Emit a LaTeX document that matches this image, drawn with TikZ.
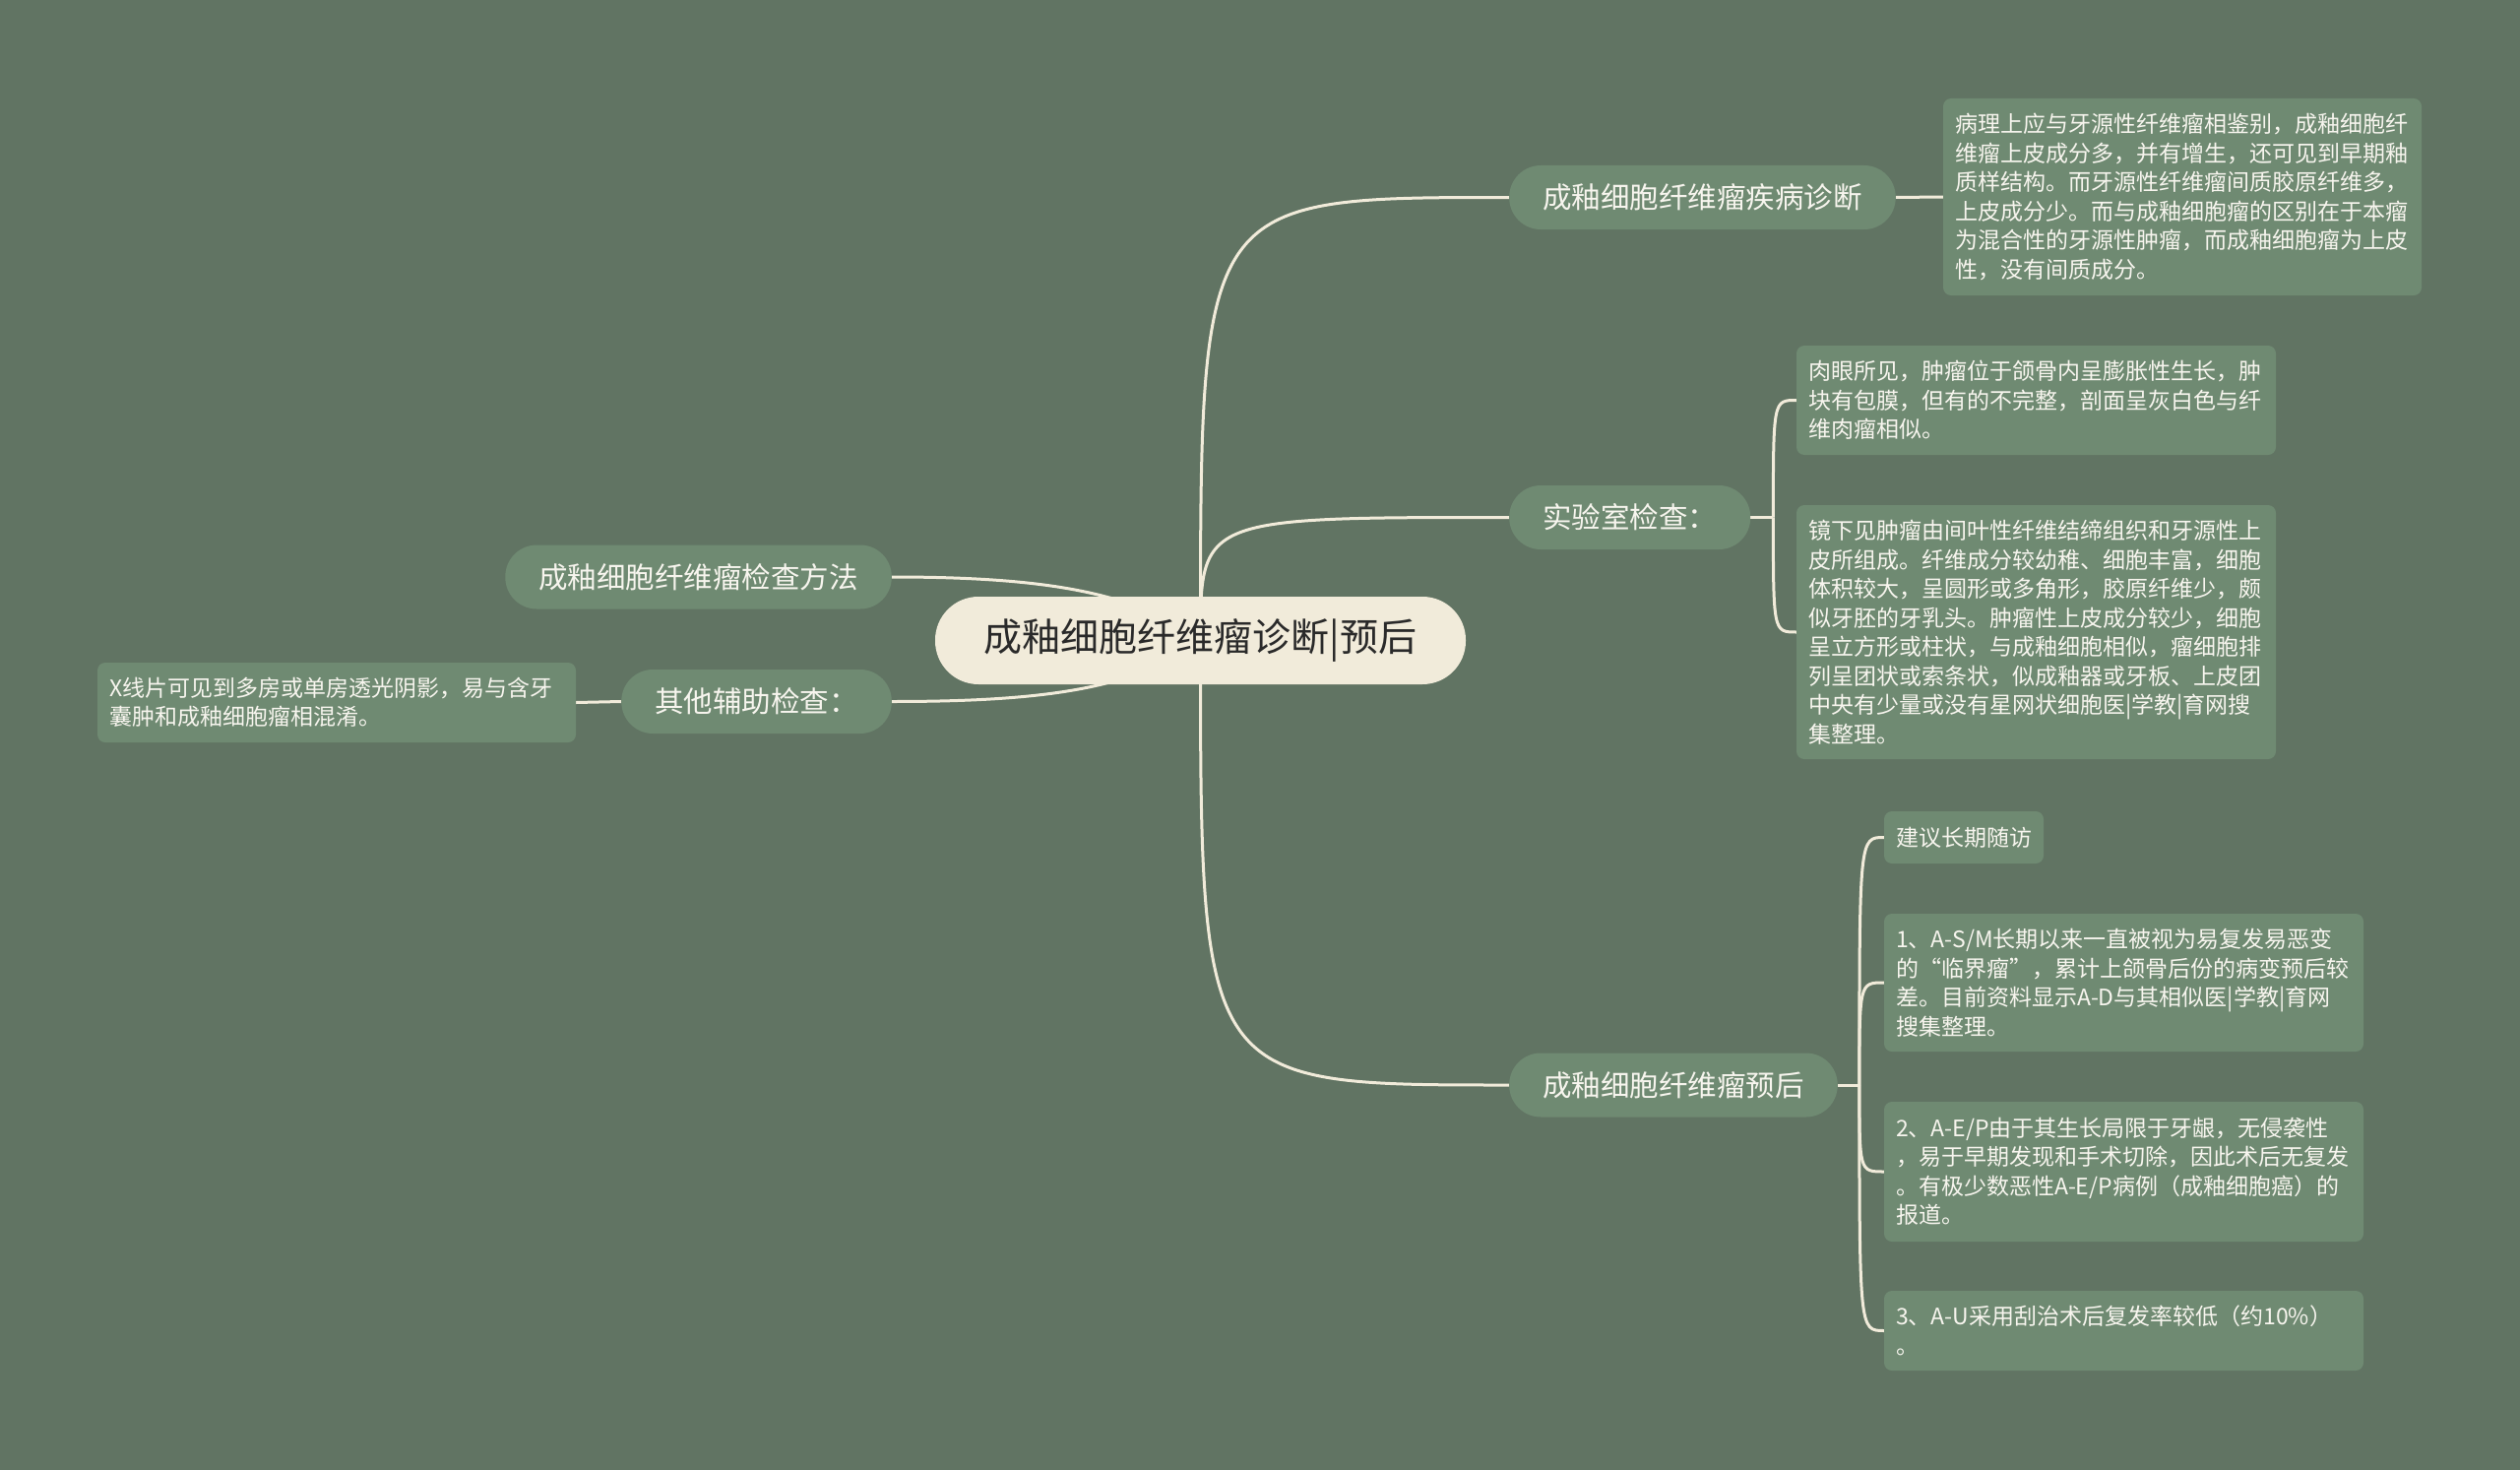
\documentclass[tikz,border=0pt]{standalone}
\usepackage{fontspec}
\newfontfamily\cjk{Noto Sans CJK SC}
\usetikzlibrary{calc}
\definecolor{bgc}{HTML}{617463}
\definecolor{nodec}{HTML}{6F8A72}
\definecolor{rootc}{HTML}{F1EBDA}
\definecolor{linec}{HTML}{F1EBDA}
\definecolor{txtc}{HTML}{F7F5EE}
\definecolor{roottxt}{HTML}{2A2A2A}
\pgfdeclarelayer{bg}
\pgfsetlayers{bg,main}
\begin{document}
\begin{tikzpicture}[x=1pt,y=-1pt,
  conn/.style={draw=linec, line width=3pt},
  rootnode/.style={fill=rootc, text=roottxt, rounded corners=44pt, minimum width=539pt, minimum height=89pt, inner sep=0pt, font=\cjk\fontsize{39}{46}\selectfont},
  topic/.style={fill=nodec, text=txtc, rounded corners=32pt, minimum height=65pt, inner xsep=34pt, inner ysep=0pt, font=\cjk\fontsize{29.5}{35}\selectfont},
  leaf/.style={fill=nodec, text=txtc, rounded corners=8pt, inner xsep=12pt, inner ysep=0pt, align=left, font=\cjk\fontsize{23}{29.5}\selectfont},
]
\useasboundingbox (0,0) rectangle (2560,1493);

% root
\node[rootnode] (root) at (1219.5,650.5) {成釉细胞纤维瘤诊断|预后};

% level 1
\node[topic, anchor=west] (L1a) at (1533,200.5) {成釉细胞纤维瘤疾病诊断};
\node[topic, anchor=west] (L1b) at (1533,525.5) {实验室检查：};
\node[topic, anchor=west] (L1c) at (1533,1102) {成釉细胞纤维瘤预后};
\node[topic, anchor=east] (L1d) at (906,586) {成釉细胞纤维瘤检查方法};
\node[topic, anchor=east] (L1e) at (906,712.5) {其他辅助检查：};

% leaves
\node[leaf, text width=462pt, minimum height=200pt] (A) at (2217,200) {病理上应与牙源性纤维瘤相鉴别，成釉细胞纤\\维瘤上皮成分多，并有增生，还可见到早期釉\\质样结构。而牙源性纤维瘤间质胶原纤维多，\\上皮成分少。而与成釉细胞瘤的区别在于本瘤\\为混合性的牙源性肿瘤，而成釉细胞瘤为上皮\\性，没有间质成分。};
\node[leaf, text width=463pt, minimum height=111pt] (B) at (2068.5,406.5) {肉眼所见，肿瘤位于颌骨内呈膨胀性生长，肿\\块有包膜，但有的不完整，剖面呈灰白色与纤\\维肉瘤相似。};
\node[leaf, text width=463pt, minimum height=258pt] (C) at (2068.5,642) {镜下见肿瘤由间叶性纤维结缔组织和牙源性上\\皮所组成。纤维成分较幼稚、细胞丰富，细胞\\体积较大，呈圆形或多角形，胶原纤维少，颇\\似牙胚的牙乳头。肿瘤性上皮成分较少，细胞\\呈立方形或柱状，与成釉细胞相似，瘤细胞排\\列呈团状或索条状，似成釉器或牙板、上皮团\\中央有少量或没有星网状细胞医|学教|育网搜\\集整理。};
\node[leaf, text width=138pt, minimum height=53pt] (D) at (1995,850.5) {建议长期随访};
\node[leaf, text width=463pt, minimum height=140pt] (E) at (2157.5,998) {1、A-S/M长期以来一直被视为易复发易恶变\\的“临界瘤”，累计上颌骨后份的病变预后较\\差。目前资料显示A-D与其相似医|学教|育网\\搜集整理。};
\node[leaf, text width=463pt, minimum height=142pt] (F) at (2157.5,1190) {2、A-E/P由于其生长局限于牙龈，无侵袭性\\，易于早期发现和手术切除，因此术后无复发\\。有极少数恶性A-E/P病例（成釉细胞癌）的\\报道。};
\node[leaf, text width=463pt, minimum height=81pt] (G) at (2157.5,1351.5) {3、A-U采用刮治术后复发率较低（约10\%）\\。};
\node[leaf, text width=462pt, minimum height=81pt] (H) at (342,713.5) {X线片可见到多房或单房透光阴影，易与含牙\\囊肿和成釉细胞瘤相混淆。};

\coordinate (fb) at ($(L1b.east)+(23,0)$);
\coordinate (fc) at ($(L1c.east)+(22,0)$);

\begin{pgfonlayer}{bg}
\fill[bgc] (0,0) rectangle (2560,1493);
% root to level 1
\draw[conn] (root.center) .. controls (root.center |- L1a.west) .. (L1a.west);
\draw[conn] (root.center) .. controls (root.center |- L1b.west) .. (L1b.west);
\draw[conn] (root.center) .. controls (root.center |- L1c.west) .. (L1c.west);
\draw[conn] (L1d.east) .. controls +(160,0) and +(-65,-48) .. (root.center);
\draw[conn] (L1e.east) .. controls +(160,0) and +(-65,48) .. (root.center);
% level 1 to leaves
\draw[conn] (L1a.east) -- (A.west);
\draw[conn] (L1e.west) -- (H.east);
\draw[conn] (L1b.east) -- (fb);
\draw[conn] (fb) .. controls (fb |- B.west) .. (B.west);
\draw[conn] (fb) .. controls (fb |- C.west) .. (C.west);
\draw[conn] (L1c.east) -- (fc);
\draw[conn] (fc) .. controls (fc |- D.west) .. (D.west);
\draw[conn] (fc) .. controls (fc |- E.west) .. (E.west);
\draw[conn] (fc) .. controls (fc |- F.west) .. (F.west);
\draw[conn] (fc) .. controls (fc |- G.west) .. (G.west);
\end{pgfonlayer}
\end{tikzpicture}
\end{document}
